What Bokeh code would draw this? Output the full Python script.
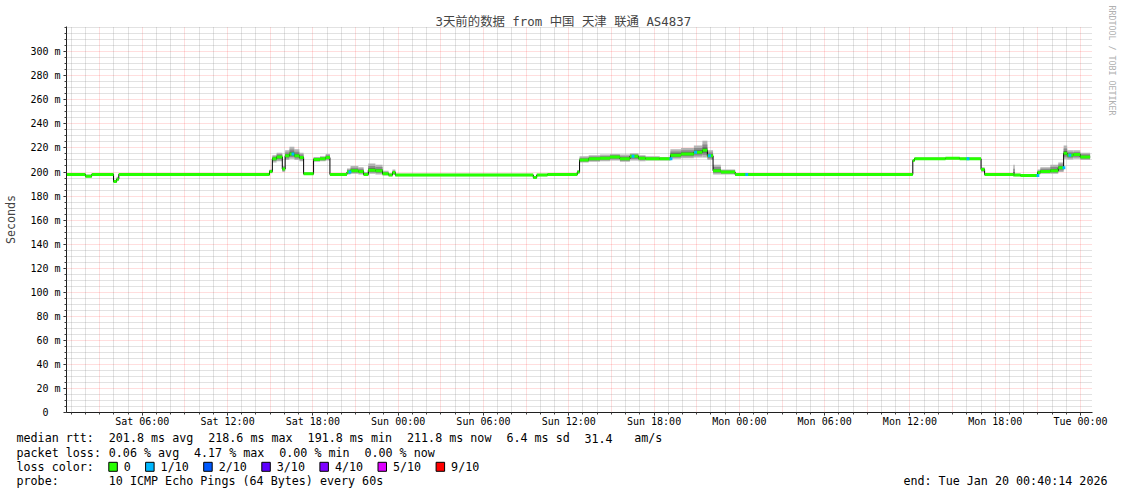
import math
import numpy as np
from bokeh.plotting import figure
from bokeh.layouts import column, row
from bokeh.models import FixedTicker, Range1d
from bokeh.core.properties import value
from bokeh.embed import file_html
from bokeh.resources import INLINE

# ---------------- data ----------------
TITLE = "3天前的数据 from 中国 天津 联通 AS4837"

# hours since Sat 2026-01-17 00:00 ; step series (value holds until next breakpoint)
t_hours = [0.67, 2.0, 2.45, 3.98, 4.2, 4.35, 14.95, 15.15, 15.45, 15.85, 16.05, 16.35, 16.7,
           17.05, 17.35, 18.05, 18.5, 18.9, 19.2, 20.4, 20.65, 21.2, 21.57, 21.9, 22.4, 22.9,
           23.33, 23.6, 23.8, 33.5, 33.75, 34.5, 36.6, 36.76, 37.4, 38.2, 38.9, 39.6, 40.3,
           40.9, 41.4, 42.4, 43.15, 43.9, 44.8, 45.4, 45.75, 46.15, 46.7, 47.7, 60.2, 60.32,
           62.5, 63.5, 65.0, 65.25, 67.27, 67.37, 67.78, 68.97, 69.17, 69.87, 70.43, 70.81,
           71.06, 71.49, 71.98, 72.67]
median_ms = [198, 196.5, 198, 192, 194, 198, 200.5, 211, 212.5, 202.5, 213.5, 215, 213.5,
             212, 198.5, 210.5, 211, 212, 198, 200, 201, 200.5, 198, 201.5, 201, 198.5,
             197.5, 199.5, 197.5, 195.5, 197.5, 198, 200, 210, 211, 211.5, 212.5, 211, 213,
             211.5, 211, 211, 214, 215, 216.5, 218, 213.5, 201, 200, 198, 209.5, 211,
             211.5, 211, 202, 198, 197.5, 197.5, 197, 199.5, 200.5, 201, 203.5, 215.5,
             214, 214.5, 212.5, 212.5]
smoke_lo = [197, 195.5, 197, 191, 193, 197, 199, 208, 209, 200, 210, 211, 210,
            209, 197.5, 208.5, 209, 209.5, 197, 198, 198.5, 198, 197, 198.5, 198, 197,
            196.5, 197.5, 196.5, 194.5, 196.5, 197, 198.5, 208, 208.5, 209, 209.5, 208.5, 209.5,
            209, 209.5, 209.5, 211, 211.5, 212, 212, 210, 198, 198, 197, 208.5, 210,
            210.5, 210, 200, 197, 196.5, 196.5, 196, 198, 198.5, 198.5, 200, 211,
            210.5, 211, 210, 210]
smoke_hi = [199, 198, 199, 193.5, 196, 199, 202, 214, 216, 205, 218, 221, 219,
            216, 200, 212.5, 213, 215, 199, 203, 205, 204, 200, 207, 206, 201,
            199, 202, 198.5, 196.5, 198.5, 199, 201.5, 213, 214, 214.5, 215, 214.5, 215.5,
            214, 213, 212.5, 219, 220, 222, 226, 218, 206, 202, 199, 210.5, 212,
            212.5, 212, 204, 199, 206, 198.5, 198, 202, 204, 206, 208, 222,
            218, 218, 216, 216]

# moments with 1/10 packet loss (hours since Sat 00:00)
loss_hours = [16.5, 20.51, 40.42, 43.09, 44.82, 45.8, 48.42, 63.98, 68.9, 70.73, 71.15]

x_tick_hours = [6, 12, 18, 24, 30, 36, 42, 48, 54, 60, 66, 72]
x_tick_labels = ["Sat 06:00", "Sat 12:00", "Sat 18:00", "Sun 00:00", "Sun 06:00", "Sun 12:00",
                 "Sun 18:00", "Mon 00:00", "Mon 06:00", "Mon 12:00", "Mon 18:00", "Tue 00:00"]
y_ticks = [0, 20, 40, 60, 80, 100, 120, 140, 160, 180, 200, 220, 240, 260, 280, 300]
y_tick_labels = ["0\u00a0\u00a0", "20 m", "40 m", "60 m", "80 m", "100 m", "120 m", "140 m",
                 "160 m", "180 m", "200 m", "220 m", "240 m", "260 m", "280 m", "300 m"]

rtt_names = ["avg", "max", "min", "now"]
rtt_values = [201.8, 218.6, 191.8, 211.8]
rtt_sd = 6.4
rtt_am = 31.4
loss_pct = [0.06, 4.17, 0.00, 0.00]
loss_colors = ["#26ff00", "#00b8ff", "#0059ff", "#5e00ff", "#7e00ff", "#dd00ff", "#ff0000"]
loss_labels = ["0", "1/10", "2/10", "3/10", "4/10", "5/10", "9/10"]
PROBE = "10 ICMP Echo Pings (64 Bytes) every 60s"
END = "end: Tue Jan 20 00:40:14 2026"
CREDIT = "RRDTOOL / TOBI OETIKER"

# ---------------- layout (page pixels) ----------------
PW, PH = 1121, 494
W1, H1 = 1108, 430            # main chart
FL, FR, FT, FB = 66, 1092, 26, 412
X0, X1 = 0.6706, 72.84
Y0, Y1 = 0, 321
FONT = "DejaVu Sans Mono"
CJK = "'DejaVu Sans Mono', 'Noto Sans CJK SC'"

p = figure(width=W1, height=H1, x_range=Range1d(X0, X1), y_range=Range1d(Y0, Y1),
           output_backend="svg", toolbar_location=None,
           min_border_left=FL, min_border_right=W1 - FR, min_border_top=FT,
           min_border_bottom=H1 - FB,
           background_fill_color="white", border_fill_color="white")
p.outline_line_color = None

p.title.text = TITLE
p.title.text_font = CJK
p.title.text_font_size = "12.4px"
p.title.text_font_style = "normal"
p.title.align = "left"
p.title.offset = 435 - FL
p.title.standoff = -4

# axes
xa = p.xaxis[0]
xa.ticker = FixedTicker(ticks=x_tick_hours, minor_ticks=list(range(1, 73)))
xa.major_label_overrides = {h: s for h, s in zip(x_tick_hours, x_tick_labels)}
ya = p.yaxis[0]
ya.ticker = FixedTicker(ticks=y_ticks, minor_ticks=list(range(0, 321, 5)))
ya.major_label_overrides = {v: s for v, s in zip(y_ticks, y_tick_labels)}
for ax in (xa, ya):
    ax.axis_line_color = "#202020"
    ax.major_tick_line_color = "#202020"
    ax.minor_tick_line_color = "#404040"
    ax.major_tick_in = 0
    ax.major_tick_out = 3
    ax.minor_tick_in = 0
    ax.minor_tick_out = 2
    ax.major_label_text_font = FONT
    ax.major_label_text_font_size = "10px"
    ax.major_label_text_color = "black"
xa.major_label_standoff = 0
ya.major_label_standoff = 3
ya.axis_label = "Seconds"
ya.axis_label_text_font = FONT
ya.axis_label_text_font_size = "11.7px"
ya.axis_label_text_font_style = "normal"
ya.axis_label_standoff = 9

# grids
g = p.xgrid[0]
g.ticker = FixedTicker(ticks=list(range(3, 73, 3)), minor_ticks=[h for h in range(1, 73) if h % 3])
gy = p.ygrid[0]
gy.ticker = FixedTicker(ticks=y_ticks[1:], minor_ticks=[v for v in range(5, 321, 5) if v % 20 or v > 300])
for gr in (g, gy):
    gr.grid_line_color = "#ff0000"
    gr.grid_line_alpha = 0.26
    gr.grid_line_dash = "1 1"
    gr.minor_grid_line_color = "#8c8c8c"
    gr.minor_grid_line_alpha = 0.5
    gr.minor_grid_line_dash = "1 1"

# ---------------- smoke + median ----------------
t = np.array(t_hours)
med = np.array(median_ms)
lo = np.array(smoke_lo)
hi = np.array(smoke_hi)
left, right = t[:-1], t[1:]
m, l, h = med[:-1], lo[:-1], hi[:-1]
p.quad(left=left, right=right, bottom=l, top=h, fill_color="#b4b4b4", line_color=None)
p.quad(left=left, right=right, bottom=m - (m - l) * 0.62, top=m + (h - m) * 0.62,
       fill_color="#8a8a8a", line_color=None)
p.quad(left=left, right=right, bottom=m - (m - l) * 0.3, top=m + (h - m) * 0.3,
       fill_color="#5a5a5a", line_color=None)
p.step(x=t, y=med, mode="after", line_color="#000000", line_width=1)
p.segment(x0=left, x1=right, y0=m, y1=m, line_color=loss_colors[0], line_width=3)
lh = np.array(loss_hours)
idx = np.searchsorted(t, lh, side="right") - 1
p.segment(x0=lh, x1=lh + 0.2, y0=med[idx], y1=med[idx], line_color=loss_colors[1], line_width=3)

# ---------------- credit strip on the right ----------------
side = figure(width=PW - W1, height=H1, x_range=Range1d(W1, PW), y_range=Range1d(H1, 0),
              output_backend="svg", toolbar_location=None,
              x_axis_location=None, y_axis_location=None,
              min_border_left=0, min_border_right=0, min_border_top=0, min_border_bottom=0,
              background_fill_color="white", border_fill_color="white")
side.outline_line_color = None
side.grid.visible = False
side.text(x=[1111.5], y=[5], text=[CREDIT], angle=-math.pi / 2, text_align="left",
          text_baseline="middle", text_font=value(FONT), text_font_size=value("8.3px"),
          text_color="#b0b0b0")

# ---------------- legend / statistics block ----------------
H2 = PH - H1
bot = figure(width=PW, height=H2, x_range=Range1d(0, PW), y_range=Range1d(PH, H1),
             output_backend="svg", toolbar_location=None,
             x_axis_location=None, y_axis_location=None,
             min_border_left=0, min_border_right=0, min_border_top=0, min_border_bottom=0,
             background_fill_color="white", border_fill_color="white")
bot.outline_line_color = None
bot.grid.visible = False

CW = 7.1
TX = 16
ROWS = [437.5, 452, 466.3, 480.5]
xs, ys, ts = [], [], []


def put(cc, yy, s):
    xs.append(TX + cc * CW)
    ys.append(yy)
    ts.append(s)


put(0, ROWS[0], "median rtt:")
c = 13
for v, n in zip(rtt_values, rtt_names):
    s = f"{v:.1f} ms {n}"
    put(c, ROWS[0], s)
    c += len(s) + 2
s = f"{rtt_sd:.1f} ms sd"
put(c, ROWS[0], s)
c += len(s) + 2
put(c, ROWS[0], f"{rtt_am:.1f}")
put(c + 7, ROWS[0], "am/s")

put(0, ROWS[1], "packet loss:")
c = 13
for v, n in zip(loss_pct, rtt_names):
    s = f"{v:.2f} % {n}"
    put(c, ROWS[1], s)
    c += len(s) + 2

put(0, ROWS[2], "loss color:")
bx = TX + 13 * CW
box_l, box_r = [], []
for colr, lab in zip(loss_colors, loss_labels):
    box_l.append(bx)
    box_r.append(bx + 8.5)
    xs.append(bx + 15)
    ys.append(ROWS[2])
    ts.append(lab)
    bx += 15 + (len(lab) + 2) * CW + 0.5

put(0, ROWS[3], "probe:")
put(13, ROWS[3], PROBE)

bot.text(x=xs, y=ys, text=ts, text_align="left", text_baseline="middle",
         text_font=value(FONT), text_font_size=value("11.7px"), text_color="black")
bot.text(x=[1107], y=[ROWS[3]], text=[END], text_align="right", text_baseline="middle",
         text_font=value(FONT), text_font_size=value("11.7px"), text_color="black")
bot.quad(left=box_l, right=box_r, top=[ROWS[2] - 4.5] * len(box_l),
         bottom=[ROWS[2] + 4.5] * len(box_l), fill_color=loss_colors,
         line_color="black", line_width=1)

layout = column(row(p, column(side, spacing=0), spacing=0), bot, spacing=0)
open("out.html", "w").write(file_html(layout, INLINE))
